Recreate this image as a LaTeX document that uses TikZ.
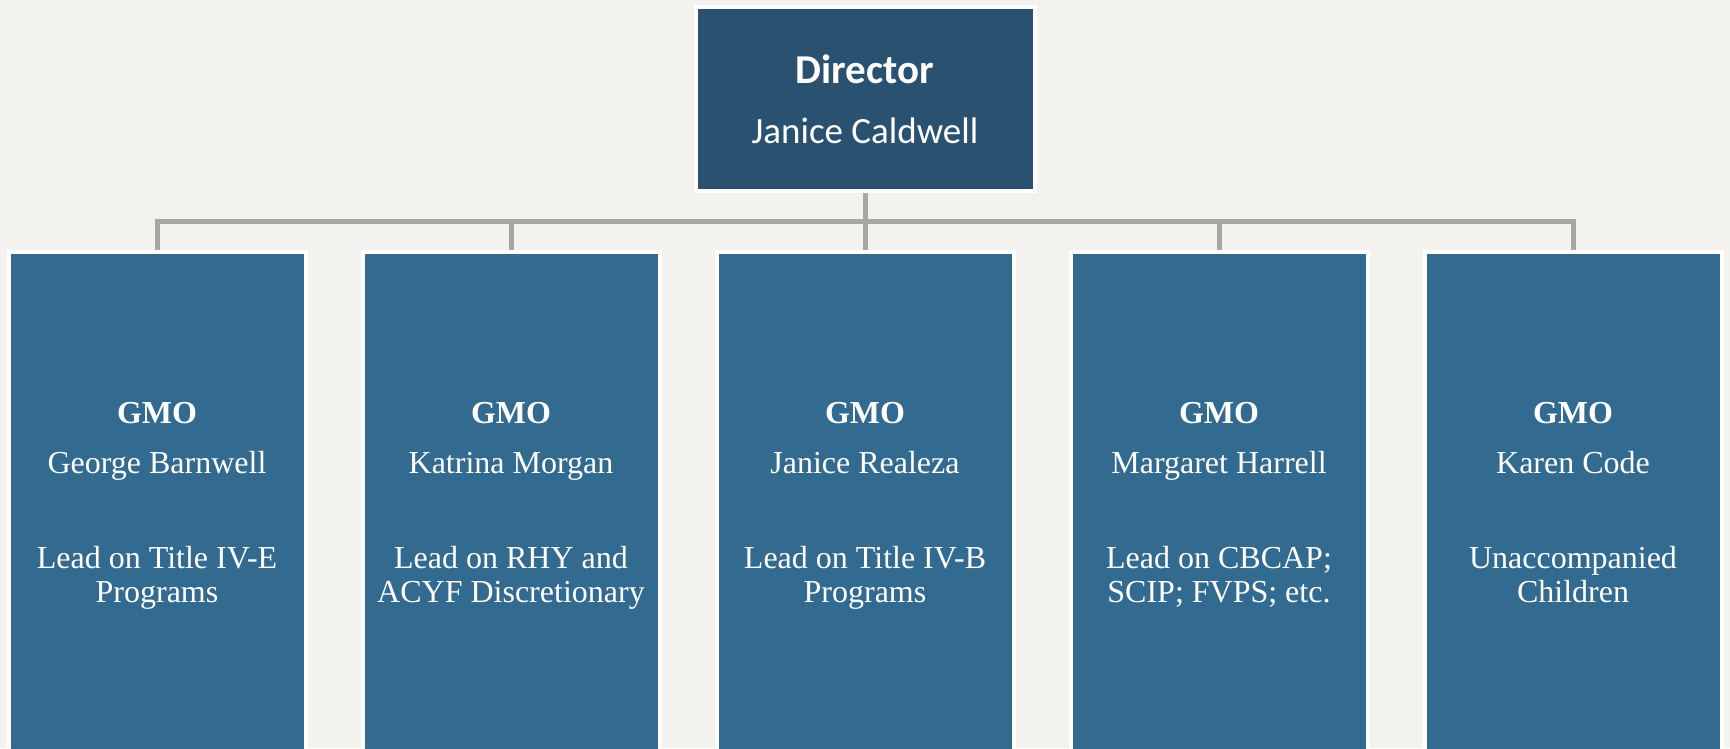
\documentclass[tikz,border=0pt]{standalone}
\usepackage{fontspec}
\setmainfont{Liberation Serif}
\newfontfamily\dirfont{Carlito}
\usepackage{tikz}
\usetikzlibrary{positioning}
\definecolor{paper}{HTML}{F4F2EE}
\definecolor{headblue}{HTML}{2A5170}
\definecolor{gmoblue}{HTML}{336A8F}
\definecolor{linkgray}{HTML}{A6A6A6}
\tikzset{head node/.style={rectangle,fill=headblue,draw=white,line width=4pt,minimum width=339pt,minimum height=184pt,inner sep=0pt,text=white,align=center,font=\dirfont\fontsize{37}{48}\selectfont},
gmo node/.style={rectangle,fill=gmoblue,draw=white,line width=4pt,minimum width=297pt,minimum height=512pt,inner sep=0pt,text=white,align=center,font=\fontsize{32}{34}\selectfont,execute at begin node=\strut,execute at end node=\strut},
link/.style={draw=linkgray,line width=5pt},
}

\begin{document}
\begin{tikzpicture}[x=1pt,y=1pt]
	\fill[paper] (0,0) rectangle (1730,748);
	\useasboundingbox (0,0) rectangle (1730,748);
	\clip (0,0) rectangle (1730,748);

	%%
	\node[gmo node] (1) at (157,240) {\textbf{GMO}\\[16pt]George Barnwell\\[61pt]Lead on Title IV-E\\Programs};
	\node[gmo node] (2) [right = 53pt of 1] {\textbf{GMO}\\[16pt]Katrina Morgan\\[61pt]Lead on RHY and\\ACYF Discretionary};
	\node[gmo node] (3) [right = 53pt of 2] {\textbf{GMO}\\[16pt]Janice Realeza\\[61pt]Lead on Title IV-B\\Programs};
	\node[gmo node] (4) [right = 53pt of 3] {\textbf{GMO}\\[16pt]Margaret Harrell\\[61pt]Lead on CBCAP;\\SCIP; FVPS; etc.};
	\node[gmo node] (5) [right = 53pt of 4] {\textbf{GMO}\\[16pt]Karen Code\\[61pt]Unaccompanied\\Children};
	\node[head node] (0) [above = 57pt of 3] {{\fontsize{41}{48}\selectfont\textbf{Director}}\\[12pt]Janice Caldwell};

	\coordinate (bar) at ([yshift=-29pt]0.south);
	\path[link]
	(1.north) |- (bar) -| (5.north)
	(0.south) -- (bar)
	(2.north) -- (2.north |- bar)
	(3.north) -- (3.north |- bar)
	(4.north) -- (4.north |- bar)
	;
\end{tikzpicture}
\end{document}
